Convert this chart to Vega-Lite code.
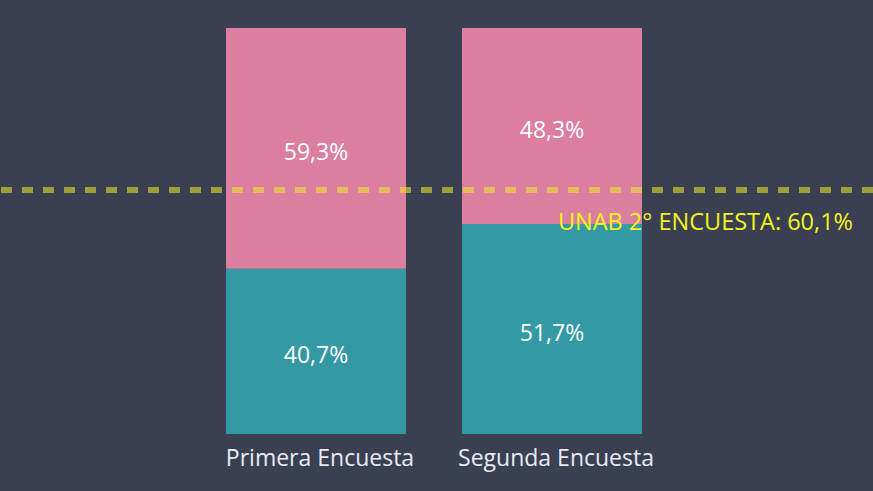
{
  "$schema": "https://vega.github.io/schema/vega-lite/v6.json",
  "width": 873,
  "height": 406,
  "autosize": {"type": "none"},
  "padding": {"top": 28, "bottom": 57, "left": 0, "right": 0},
  "background": "#3a4052",
  "config": {"view": {"stroke": null}, "font": "Open Sans"},
  "layer": [
    {
      "data": {"values": [
        {"encuesta": "Primera Encuesta", "grupo": "A", "orden": 1, "pct": 40.7, "etiqueta": "40,7%"},
        {"encuesta": "Primera Encuesta", "grupo": "B", "orden": 2, "pct": 59.3, "etiqueta": "59,3%"},
        {"encuesta": "Segunda Encuesta", "grupo": "A", "orden": 1, "pct": 51.7, "etiqueta": "51,7%"},
        {"encuesta": "Segunda Encuesta", "grupo": "B", "orden": 2, "pct": 48.3, "etiqueta": "48,3%"}
      ]},
      "transform": [
        {"stack": "pct", "groupby": ["encuesta"], "sort": [{"field": "orden"}], "as": ["y0", "y1"]},
        {"calculate": "(datum.y0 + datum.y1) / 2", "as": "ymid"}
      ],
      "encoding": {
        "x": {
          "field": "encuesta", "type": "nominal",
          "scale": {"range": [226, 642], "paddingInner": 0.2373, "paddingOuter": 0},
          "axis": {"title": null, "labelAngle": 0, "domain": false, "ticks": false, "labelColor": "#e6ebf5", "labelFontSize": 23, "labelPadding": 13, "labelLimit": 0, "labelOffset": 4}
        }
      },
      "layer": [
        {
          "mark": {"type": "bar"},
          "encoding": {
            "y": {"field": "y0", "type": "quantitative", "scale": {"domain": [0, 100]}, "axis": null},
            "y2": {"field": "y1"},
            "color": {"field": "grupo", "type": "nominal", "scale": {"domain": ["A", "B"], "range": ["#3399a4", "#db7e9f"]}, "legend": null}
          }
        },
        {
          "mark": {"type": "text", "fontSize": 23, "color": "#ffffff", "baseline": "middle", "dy": 5},
          "encoding": {
            "y": {"field": "ymid", "type": "quantitative"},
            "text": {"field": "etiqueta"}
          }
        }
      ]
    },
    {
      "data": {"values": [{"meta": 60.1, "texto": "UNAB 2° ENCUESTA: 60,1%"}]},
      "layer": [
        {
          "mark": {"type": "rule", "strokeWidth": 6, "strokeDash": [11, 10], "color": "#eded26", "opacity": 0.55},
          "encoding": {"y": {"field": "meta", "type": "quantitative"}}
        },
        {
          "mark": {"type": "text", "align": "right", "baseline": "middle", "dy": 33, "dx": -20, "fontSize": 23.5, "color": "#f4f41c"},
          "encoding": {
            "y": {"field": "meta", "type": "quantitative"},
            "x": {"value": "width"},
            "text": {"field": "texto"}
          }
        }
      ]
    }
  ]
}
